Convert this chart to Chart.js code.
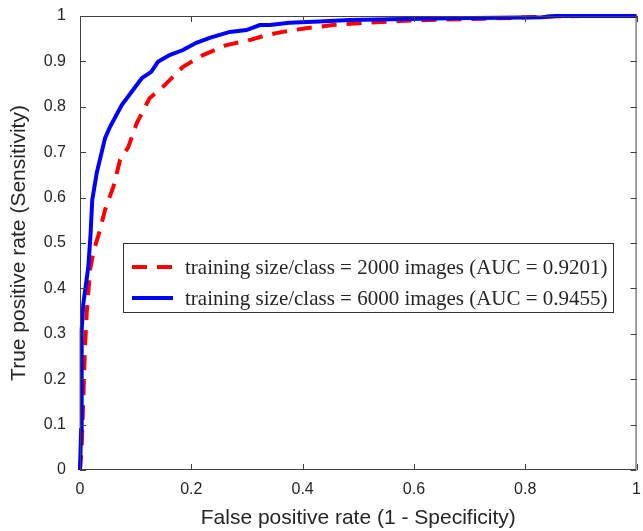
<!DOCTYPE html>
<html>
<head>
<meta charset="utf-8">
<script src="https://cdn.jsdelivr.net/npm/chart.js@4"></script>
<style>
html,body{margin:0;padding:0;background:#fff;}
#wrap{width:643px;height:531px;position:relative;}
</style>
</head>
<body>
<div id="wrap"><canvas id="c" width="643" height="531"></canvas></div>
<script>
// ---- data ----
const seriesLabels = [
  "training size/class = 2000 images (AUC = 0.9201)",
  "training size/class = 6000 images (AUC = 0.9455)"
];
const fpr2000 = [0, 0.003, 0.006, 0.009, 0.012, 0.018, 0.024, 0.036, 0.045, 0.060, 0.072, 0.087, 0.102, 0.125, 0.149, 0.167, 0.185, 0.221, 0.263, 0.305, 0.335, 0.364, 0.40, 0.454, 0.50, 0.573, 0.65, 0.723, 0.78, 0.842, 0.90, 1.0];
const tpr2000 = [0, 0.05, 0.16, 0.27, 0.345, 0.44, 0.48, 0.529, 0.573, 0.624, 0.683, 0.712, 0.764, 0.819, 0.844, 0.866, 0.888, 0.914, 0.936, 0.947, 0.958, 0.965, 0.972, 0.980, 0.984, 0.989, 0.992, 0.994, 0.996, 0.999, 1.0, 1.0];
const fpr6000 = [0, 0.002, 0.003, 0.003, 0.006, 0.015, 0.019, 0.022, 0.030, 0.045, 0.054, 0.075, 0.111, 0.128, 0.140, 0.161, 0.185, 0.209, 0.233, 0.269, 0.299, 0.323, 0.341, 0.376, 0.43, 0.484, 0.56, 0.663, 0.75, 0.83, 0.855, 1.0];
const tpr6000 = [0, 0.088, 0.236, 0.308, 0.367, 0.448, 0.52, 0.595, 0.654, 0.731, 0.756, 0.804, 0.863, 0.877, 0.899, 0.914, 0.925, 0.941, 0.952, 0.965, 0.969, 0.980, 0.980, 0.985, 0.988, 0.991, 0.993, 0.995, 0.996, 0.997, 1.0, 1.0];
const xTickValues = [0, 0.2, 0.4, 0.6, 0.8, 1];
const xTickLabels = ["0", "0.2", "0.4", "0.6", "0.8", "1"];
const yTickValues = [0, 0.1, 0.2, 0.3, 0.4, 0.5, 0.6, 0.7, 0.8, 0.9, 1];
const yTickLabels = ["0", "0.1", "0.2", "0.3", "0.4", "0.5", "0.6", "0.7", "0.8", "0.9", "1"];
const xTitle = "False positive rate (1 - Specificity)";
const yTitle = "True positive rate (Sensitivity)";

const toPts = (xs, ys) => xs.map((x, i) => ({x: x, y: ys[i]}));
const AXIS = '#404040';
const TXT = '#262626';

const boxTicks = {
  id: 'boxTicks',
  afterDatasetsDraw(chart) {
    const {ctx, chartArea: a, scales} = chart;
    ctx.save();
    ctx.strokeStyle = AXIS;
    ctx.lineWidth = 1;
    ctx.beginPath();
    ctx.rect(a.left + 0.5, a.top + 0.5, a.right - a.left - 1, a.bottom - a.top - 1);
    const L = 6;
    xTickValues.forEach(v => {
      const px = Math.round(scales.x.getPixelForValue(v)) + 0.5;
      ctx.moveTo(px, a.bottom); ctx.lineTo(px, a.bottom - L);
      ctx.moveTo(px, a.top); ctx.lineTo(px, a.top + L);
    });
    yTickValues.forEach(v => {
      const py = Math.round(scales.y.getPixelForValue(v)) + 0.5;
      ctx.moveTo(a.left, py); ctx.lineTo(a.left + L, py);
      ctx.moveTo(a.right, py); ctx.lineTo(a.right - L, py);
    });
    ctx.stroke();
    ctx.restore();
  },
  afterDraw(chart) {
    const {ctx, chartArea: a} = chart;
    const ds = chart.data.datasets;
    const bx = a.left + 43, by = a.top + 227, bw = 490, bh = 69;
    ctx.save();
    ctx.fillStyle = '#fff';
    ctx.fillRect(bx, by, bw, bh);
    ctx.strokeStyle = '#333';
    ctx.lineWidth = 1;
    ctx.strokeRect(bx + 0.5, by + 0.5, bw, bh);
    ctx.font = '21px "Liberation Serif", "Times New Roman", serif';
    ctx.textBaseline = 'middle';
    ctx.fillStyle = TXT;
    const rows = [by + 24, by + 55];
    ds.forEach((d, i) => {
      const ry = rows[i];
      ctx.strokeStyle = d.borderColor;
      ctx.lineWidth = 4;
      ctx.setLineDash(d.borderDash || []);
      ctx.beginPath();
      ctx.moveTo(bx + 9, ry); ctx.lineTo(bx + 50, ry);
      ctx.stroke();
      ctx.setLineDash([]);
      ctx.fillText(d.label, bx + 62, ry + 1);
    });
    ctx.restore();
  }
};

new Chart(document.getElementById('c'), {
  type: 'scatter',
  data: {
    datasets: [
      {label: seriesLabels[0], data: toPts(fpr2000, tpr2000), showLine: true, borderColor: '#ff0000', backgroundColor: '#ff0000', borderWidth: 4, borderDash: [15, 10], pointRadius: 0, tension: 0, clip: 6, order: 1},
      {label: seriesLabels[1], data: toPts(fpr6000, tpr6000), showLine: true, borderColor: '#0000ff', backgroundColor: '#0000ff', borderWidth: 4, pointRadius: 0, tension: 0, clip: 6, order: 0}
    ]
  },
  options: {
    responsive: false,
    animation: false,
    devicePixelRatio: 1,
    layout: {padding: {top: 16, right: 5, left: 0, bottom: 0}},
    plugins: {legend: {display: false}, tooltip: {enabled: false}},
    scales: {
      x: {
        type: 'linear', min: 0, max: 1,
        afterBuildTicks: s => { s.ticks = xTickValues.map(v => ({value: v})); },
        afterFit: s => { s.height = 61; },
        grid: {display: false},
        border: {display: false},
        ticks: {
          color: TXT, padding: 2,
          font: {family: '"Liberation Sans", Arial, sans-serif', size: 16},
          callback: (v) => xTickLabels[xTickValues.indexOf(v)] ?? ''
        },
        title: {display: true, text: xTitle, color: TXT, padding: {top: 4, bottom: 0},
          font: {family: '"Liberation Sans", Arial, sans-serif', size: 21}}
      },
      y: {
        type: 'linear', min: 0, max: 1,
        afterBuildTicks: s => { s.ticks = yTickValues.map(v => ({value: v})); },
        afterFit: s => { s.width = 80; },
        grid: {display: false},
        border: {display: false},
        ticks: {
          color: TXT, padding: 6,
          font: {family: '"Liberation Sans", Arial, sans-serif', size: 16},
          callback: (v) => yTickLabels[yTickValues.indexOf(v)] ?? ''
        },
        title: {display: true, text: yTitle, color: TXT, padding: {top: 7, bottom: 0},
          font: {family: '"Liberation Sans", Arial, sans-serif', size: 21}}
      }
    }
  },
  plugins: [boxTicks]
});
</script>
</body>
</html>
